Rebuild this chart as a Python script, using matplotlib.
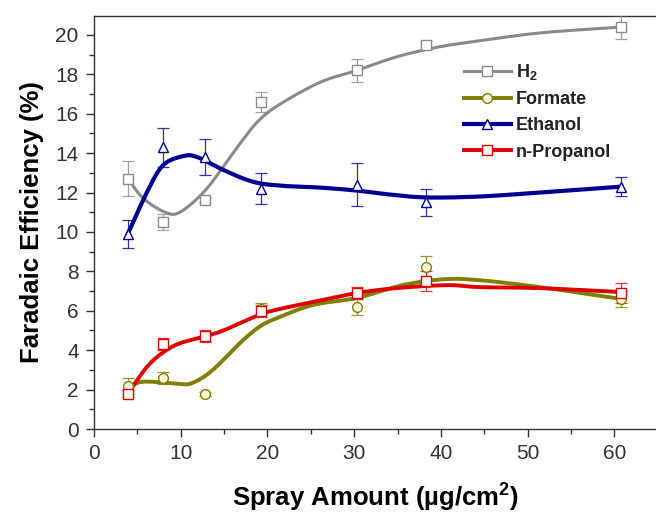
import numpy as np
import matplotlib
matplotlib.use("Agg")
import matplotlib.pyplot as plt

plt.rcParams["font.family"] = ["Liberation Sans", "DejaVu Sans"]
plt.rcParams["mathtext.fontset"] = "custom"
plt.rcParams["mathtext.rm"] = "Liberation Sans:bold"
plt.rcParams["mathtext.it"] = "Liberation Sans:bold"

# measured points (spray amount in ug/cm2, faradaic efficiency in %)
spray = [3.9, 8.0, 12.8, 19.3, 30.3, 38.3, 60.8]
h2 = [12.7, 10.5, 11.6, 16.6, 18.2, 19.5, 20.4]
h2_err = [0.9, 0.4, 0.1, 0.5, 0.6, 0.2, 0.6]
formate = [2.2, 2.6, 1.8, 6.1, 6.2, 8.2, 6.6]
formate_err = [0.4, 0.3, 0.1, 0.3, 0.4, 0.6, 0.4]
ethanol = [9.9, 14.3, 13.8, 12.2, 12.4, 11.5, 12.3]
ethanol_err = [0.7, 1.0, 0.9, 0.8, 1.1, 0.7, 0.5]
propanol = [1.8, 4.3, 4.7, 6.0, 6.9, 7.5, 6.9]
propanol_err = [0.2, 0.3, 0.3, 0.3, 0.3, 0.5, 0.5]

# smoothed trend lines
h2_fit_x = [3.9, 5.7, 8.2, 9.9, 12.6, 14.9, 17.2, 19.1, 21.5, 26.1, 30.3, 35.0, 39.9, 44.5, 51.4, 60.8]
h2_fit_y = [12.7, 11.7, 11.0, 11.0, 12.0, 13.3, 14.7, 15.7, 16.5, 17.6, 18.2, 18.9, 19.4, 19.7, 20.1, 20.4]
et_fit_x = [3.9, 6.2, 8.0, 10.3, 11.9, 14.9, 18.3, 21.5, 26.1, 30.3, 34.1, 38.4, 44.5, 51.4, 60.8]
et_fit_y = [9.9, 12.1, 13.4, 13.85, 13.8, 13.15, 12.55, 12.35, 12.25, 12.1, 11.9, 11.75, 11.8, 12.0, 12.3]
fo_fit_x = [3.9, 5.7, 9.6, 11.1, 13.0, 14.9, 16.8, 19.1, 21.5, 25.3, 30.3, 35.6, 40.3, 44.5, 51.4, 60.8]
fo_fit_y = [2.1, 2.4, 2.3, 2.3, 2.75, 3.5, 4.35, 5.2, 5.7, 6.3, 6.65, 7.3, 7.6, 7.55, 7.2, 6.6]
pr_fit_x = [3.9, 6.1, 8.0, 9.9, 12.8, 14.9, 19.1, 21.5, 25.3, 30.3, 34.9, 40.7, 44.5, 51.4, 60.8]
pr_fit_y = [1.8, 3.15, 3.9, 4.35, 4.7, 5.0, 5.8, 6.1, 6.45, 6.9, 7.15, 7.3, 7.2, 7.15, 6.95]


def smooth(xs, ys, n=12):
    # Catmull-Rom pass so the trend lines render without corners
    xs, ys = np.asarray(xs, float), np.asarray(ys, float)
    px = np.concatenate([[2 * xs[0] - xs[1]], xs, [2 * xs[-1] - xs[-2]]])
    py = np.concatenate([[2 * ys[0] - ys[1]], ys, [2 * ys[-1] - ys[-2]]])
    t = np.linspace(0, 1, n, endpoint=False)
    ox, oy = [], []
    for i in range(1, len(px) - 2):
        for p, o in ((px, ox), (py, oy)):
            p0, p1, p2, p3 = p[i - 1], p[i], p[i + 1], p[i + 2]
            o.extend(0.5 * (2 * p1 + (-p0 + p2) * t
                            + (2 * p0 - 5 * p1 + 4 * p2 - p3) * t ** 2
                            + (-p0 + 3 * p1 - 3 * p2 + p3) * t ** 3))
    ox.append(xs[-1])
    oy.append(ys[-1])
    return ox, oy


series = [
    ("H$_2$", h2, h2_err, h2_fit_x, h2_fit_y, "#8a8a8a", "s", "white", 2.2),
    ("Formate", formate, formate_err, fo_fit_x, fo_fit_y, "#7f7f00", "o", "#fffbe0", 2.8),
    ("Ethanol", ethanol, ethanol_err, et_fit_x, et_fit_y, "#000090", "^", "white", 3.0),
    ("n-Propanol", propanol, propanol_err, pr_fit_x, pr_fit_y, "#e00000", "s", "white", 2.8),
]

fig = plt.figure(figsize=(6.56, 5.19), dpi=100)
ax = fig.add_axes([0.1433, 0.1734, 0.8567, 0.7958])

for name, vals, err, fx, fy, color, marker, face, lw in series:
    sx, sy = smooth(fx, fy)
    ax.plot(sx, sy, color=color, lw=lw, zorder=2)
    ax.errorbar(spray, vals, yerr=err, fmt="none", ecolor=color, elinewidth=0.9,
                capsize=4, capthick=0.9, alpha=0.8, zorder=3)
    ax.plot(spray, vals, ls="none", marker=marker, ms=7, mfc=face, mec=color,
            mew=1.0, zorder=4)
    ax.plot([], [], color=color, lw=lw, marker=marker, ms=7, mfc=face, mec=color,
            mew=1.0, label=name)

ax.set_xlim(0, 64.8)
ax.set_ylim(0, 20.96)
ax.set_xticks(np.arange(0, 61, 10))
ax.set_yticks(np.arange(0, 21, 2))
ax.set_xticks(np.arange(5, 61, 10), minor=True)
ax.set_yticks(np.arange(1, 21, 2), minor=True)
ax.tick_params(axis="both", which="major", direction="out", length=6, width=1,
               labelsize=15, colors="#333333", pad=5)
ax.tick_params(axis="both", which="minor", direction="out", length=3.5, width=1,
               colors="#333333")
ax.spines["right"].set_visible(False)
for s in ("left", "bottom", "top"):
    ax.spines[s].set_color("#333333")
    ax.spines[s].set_linewidth(1.0)

ax.set_xlabel("Spray Amount (\u00b5g/cm$^2$)", fontsize=18.5, fontweight="bold",
              labelpad=13)
ax.set_ylabel("Faradaic Efficiency (%)", fontsize=18.5, fontweight="bold",
              labelpad=8)

leg = ax.legend(loc="upper left", bbox_to_anchor=(0.645, 0.905), frameon=False,
                fontsize=13, handlelength=2.6, handletextpad=0.3,
                labelspacing=0.5, borderaxespad=0)
for t in leg.get_texts():
    t.set_fontweight("bold")
    t.set_color("#222222")

fig.savefig("out.png", dpi=100)
